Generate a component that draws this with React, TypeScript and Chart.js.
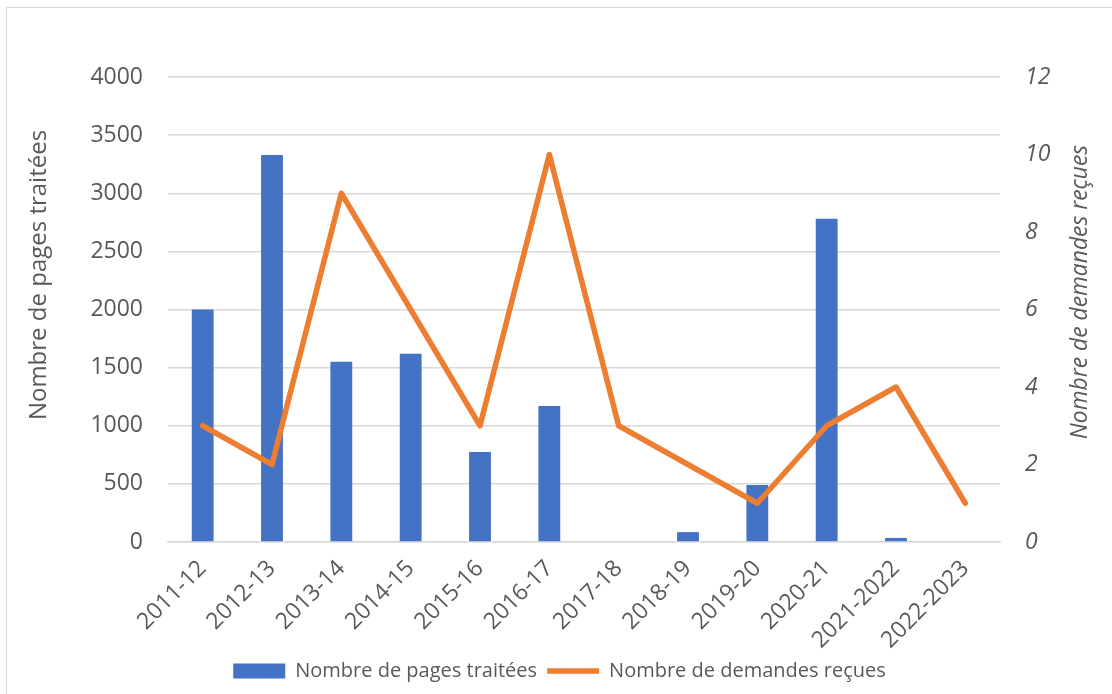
import React, { useEffect, useRef } from "react";
import { Chart, registerables } from "chart.js";

Chart.register(...registerables);

const categories = [
  "2011-12", "2012-13", "2013-14", "2014-15", "2015-16", "2016-17",
  "2017-18", "2018-19", "2019-20", "2020-21", "2021-2022", "2022-2023",
];
const pagesTraitees = [2000, 3330, 1550, 1620, 775, 1170, 0, 85, 490, 2780, 35, 0];
const demandesRecues = [3, 2, 9, 6, 3, 10, 3, 2, 1, 3, 4, 1];

const barLabel = "Nombre de pages traitées";
const lineLabel = "Nombre de demandes reçues";
const leftTitle = "Nombre de pages traitées";
const rightTitle = "Nombre de demandes reçues";

const BLUE = "#4472C4";
const ORANGE = "#ED7D31";
const TEXT = "#595959";
const GRID = "#d9d9d9";
const FONT = '"Open Sans", "Liberation Sans", sans-serif';

const W = 1105;
const H = 686;

const titlePlugin = {
  id: "axisTitlesCustom",
  afterDraw(chart: any) {
    const ctx = chart.ctx as CanvasRenderingContext2D;
    ctx.save();
    ctx.fillStyle = TEXT;
    ctx.textAlign = "center";
    ctx.textBaseline = "alphabetic";
    ctx.font = `24px ${FONT}`;
    ctx.translate(39, 267);
    ctx.rotate(-Math.PI / 2);
    ctx.fillText(leftTitle, 0, 0);
    ctx.restore();

    ctx.save();
    ctx.fillStyle = TEXT;
    ctx.textAlign = "center";
    ctx.textBaseline = "alphabetic";
    ctx.font = `italic 22.8px ${FONT}`;
    ctx.translate(1080, 284);
    ctx.rotate(-Math.PI / 2);
    ctx.fillText(rightTitle, 0, 0);
    ctx.restore();
  },
};

export default function App() {
  const canvasRef = useRef<HTMLCanvasElement | null>(null);

  useEffect(() => {
    const canvas = canvasRef.current;
    if (!canvas) return;
    const chart = new Chart(canvas, {
      type: "bar",
      data: {
        labels: categories,
        datasets: [
          {
            type: "bar",
            label: barLabel,
            data: pagesTraitees,
            backgroundColor: BLUE,
            borderWidth: 0,
            yAxisID: "y",
            order: 2,
            barPercentage: 0.315,
            categoryPercentage: 1,
          },
          {
            type: "line",
            label: lineLabel,
            data: demandesRecues,
            borderColor: ORANGE,
            backgroundColor: ORANGE,
            borderWidth: 5.5,
            borderCapStyle: "round",
            borderJoinStyle: "round",
            pointRadius: 0,
            pointHoverRadius: 0,
            tension: 0,
            yAxisID: "y1",
            order: 1,
          } as any,
        ],
      },
      options: {
        responsive: false,
        animation: false,
        layout: { padding: { top: 69, left: 0, right: 0, bottom: 3 } },
        plugins: {
          tooltip: { enabled: false },
          legend: {
            position: "bottom",
            labels: {
              usePointStyle: true,
              pointStyleWidth: 52,
              boxHeight: 15,
              padding: 10,
              color: TEXT,
              font: { family: FONT, size: 20 },
              generateLabels: (c: any) => {
                const items = (Chart.defaults.plugins.legend.labels as any).generateLabels(c);
                return items
                  .sort((a: any, b: any) => a.datasetIndex - b.datasetIndex)
                  .map((it: any) =>
                    it.datasetIndex === 0
                      ? { ...it, pointStyle: "rect", fillStyle: BLUE, strokeStyle: BLUE, lineWidth: 0 }
                      : { ...it, pointStyle: "line", fillStyle: ORANGE, strokeStyle: ORANGE, lineWidth: 5.5, lineCap: "butt" }
                  );
              },
            },
          },
        },
        scales: {
          x: {
            grid: { display: false },
            border: { display: true, color: GRID, width: 1.5 },
            ticks: {
              color: TEXT,
              font: { family: FONT, size: 23 },
              maxRotation: 45,
              minRotation: 45,
              autoSkip: false,
              padding: 5,
            },
            afterFit: (s: any) => {
              s.height = 109;
            },
          },
          y: {
            position: "left",
            min: 0,
            max: 4000,
            ticks: {
              stepSize: 500,
              color: TEXT,
              font: { family: FONT, size: 23 },
              padding: 25,
              callback: (v: any) => String(v),
            },
            grid: { color: GRID, lineWidth: 1.5, drawTicks: false },
            border: { display: false },
            afterFit: (s: any) => {
              s.width = 161;
            },
          },
          y1: {
            position: "right",
            min: 0,
            max: 12,
            ticks: {
              stepSize: 2,
              color: TEXT,
              font: { family: FONT, size: 23, style: "italic" },
              padding: 25,
              callback: (v: any) => String(v),
            },
            grid: { display: false, drawTicks: false },
            border: { display: false },
            afterFit: (s: any) => {
              s.width = 112;
            },
          },
        },
      },
      plugins: [titlePlugin],
    });
    return () => chart.destroy();
  }, []);

  return (
    <div
      style={{
        position: "absolute",
        left: 6,
        top: 7,
        width: W,
        height: H,
        borderLeft: `1px solid ${GRID}`,
        borderTop: `1px solid ${GRID}`,
        background: "#fff",
      }}
    >
      <canvas ref={canvasRef} width={W} height={H} style={{ display: "block", width: W, height: H }} />
    </div>
  );
}
